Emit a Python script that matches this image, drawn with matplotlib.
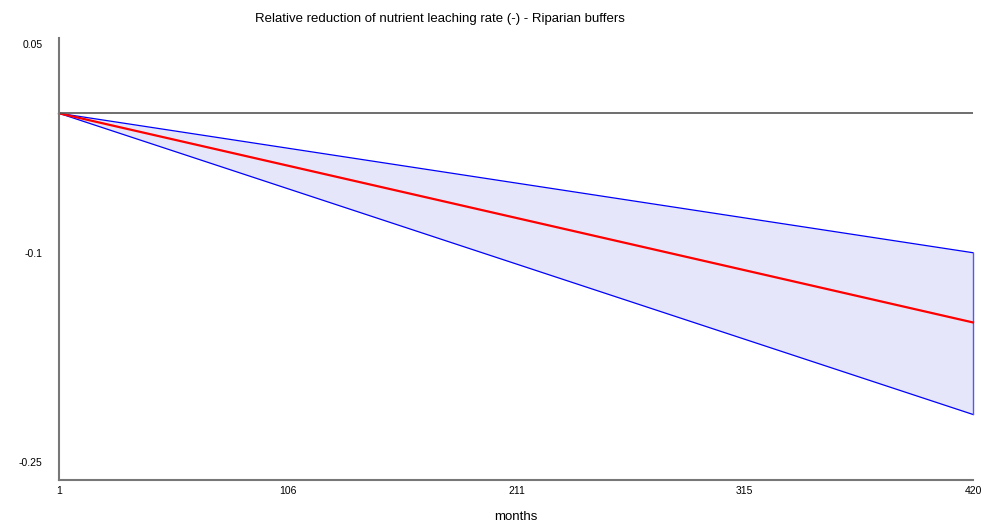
import matplotlib.pyplot as plt

# data
months = [1, 420]
mean_reduction = [0.0, -0.15]
lower_bound = [0.0, -0.216]
upper_bound = [0.0, -0.1]
x_ticks = [1, 106, 211, 315, 420]
y_ticks = [0.05, -0.1, -0.25]

plt.rcParams['font.family'] = ['Liberation Sans', 'DejaVu Sans']

fig = plt.figure(figsize=(9.94, 5.29), dpi=100)
ax = fig.add_axes([59 / 994, 49 / 529, 914 / 994, 442 / 529])

# uncertainty band
ax.fill_between(months, lower_bound, upper_bound, color='#e6e6fa', linewidth=0)
ax.plot(months, upper_bound, color='blue', linewidth=0.9, clip_on=False)
ax.plot(months, lower_bound, color='blue', linewidth=0.9, clip_on=False)
ax.plot([months[-1], months[-1]], [lower_bound[-1], upper_bound[-1]],
        color='#5555ff', linewidth=1.0, clip_on=False)

# mean line
ax.plot(months, mean_reduction, color='red', linewidth=1.6, clip_on=False)

# zero line
ax.axhline(0, color='#555555', linewidth=1.2)

ax.set_xlim(1, 420)
ax.set_ylim(-0.263, 0.054)
ax.set_xticks(x_ticks)
ax.set_xticklabels([str(t) for t in x_ticks])
ax.set_yticks(y_ticks)
ax.set_yticklabels([str(t) for t in y_ticks])
ax.tick_params(length=0, labelsize=7.5)
ax.tick_params(axis='x', pad=4)
ax.tick_params(axis='y', pad=12)

for side in ['top', 'right']:
    ax.spines[side].set_visible(False)
for side in ['left', 'bottom']:
    ax.spines[side].set_color('#777777')
    ax.spines[side].set_linewidth(1.5)

ax.set_xlabel('months', fontsize=9.5, labelpad=11)
fig.text(0.443, 0.964, 'Relative reduction of nutrient leaching rate (-) - Riparian buffers',
         fontsize=9.5, ha='center', va='center')

fig.savefig('out.png', dpi=100)
